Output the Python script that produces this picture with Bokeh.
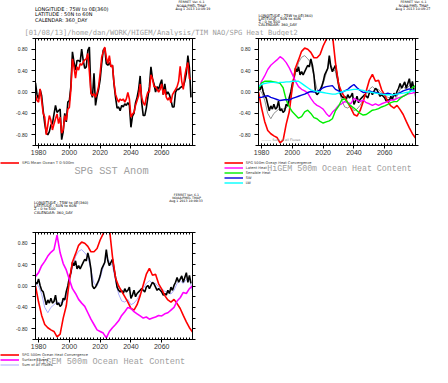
from bokeh.plotting import figure
from bokeh.layouts import column, row
from bokeh.models import (Label, Legend, LegendItem, LinearAxis, Range1d,
                          FixedTicker, PrintfTickFormatter)
from bokeh.embed import file_html
from bokeh.resources import INLINE

# ---------------- data ----------------
years_annual = list(range(1978, 2080))
years_2 = list(range(1978, 2081, 2))

sst_black = [0.17, -0.05, -0.13, 0.05, -0.07, -0.35, -0.59, -0.77, -0.80, -0.74,
             -0.62, -0.59, -0.42, -0.25, -0.38, -0.35, -0.32, -0.89, -0.74, -0.40,
             -0.56, -0.19, -0.16, 0.11, 0.75, 0.56, 0.41, 0.59, 0.59, 0.56,
             0.80, 0.59, 0.44, 0.47, 0.78, 0.84, -0.01, -0.10, 0.35, -0.25,
             -0.07, 0.05, 0.23, 0.53, 0.78, 0.82, 0.53, 0.50, 0.55, 0.48,
             0.50, 0.15, -0.10, -0.30, -0.28, -0.35, -0.25, -0.28, -0.22, -0.25,
             -0.20, -0.25, -0.66, -0.45, -0.40, -0.20, -0.10, 0.05, 0.30, -0.20,
             -0.44, -0.44, -0.30, -0.10, 0.10, 0.47, 0.25, 0.15, 0.00, 0.10,
             0.05, 0.15, 0.23, -0.05, 0.15, -0.05, 0.00, -0.05, -0.15, -0.28,
             -0.28, 0.00, 0.05, 0.05, 0.08, 0.10, 0.10, 0.20, 0.35, 0.68,
             0.45, -0.10]
sst_mean_0_500 = [-0.06, -0.16, -0.19, 0.06, -0.16, -0.40, -0.47, -0.80, -0.62, -0.44,
                  -0.53, -0.71, -0.60, -0.50, -0.41, -0.59, -0.47, -0.77, -0.71, -0.44,
                  -0.53, -0.32, -0.29, 0.05, 0.62, 0.47, 0.26, 0.47, 0.41, 0.53,
                  0.50, 0.56, 0.60, 0.62, 0.72, 0.38, -0.01, -0.07, -0.03, -0.10,
                  -0.02, 0.11, 0.35, 0.65, 0.75, 0.84, 0.65, 0.53, 0.68, 0.47,
                  0.50, 0.17, -0.04, -0.13, -0.19, -0.13, -0.16, -0.13, -0.19, -0.13,
                  -0.01, -0.13, -0.47, -0.41, -0.38, -0.25, -0.16, -0.07, 0.15, -0.10,
                  -0.20, -0.25, -0.10, 0.00, 0.00, 0.32, 0.25, 0.10, 0.10, 0.05,
                  0.00, 0.05, 0.15, -0.05, 0.05, -0.10, -0.15, -0.10, -0.20, -0.05,
                  0.00, 0.05, 0.10, 0.20, 0.48, 0.20, 0.05, 0.30, 0.45, 0.55,
                  0.25, 0.25]
ohc_500m = [0.07, 0.04, 0.13, 0.01, -0.08, -0.11, -0.23, -0.35, -0.26, -0.32,
            -0.23, -0.32, -0.29, -0.17, -0.35, -0.32, -0.38, -0.35, -0.23, -0.26,
            -0.10, 0.00, 0.16, 0.25, 0.44, 0.38, 0.47, 0.32, 0.38, 0.32,
            0.38, 0.44, 0.50, 0.47, 0.62, 0.50, 0.32, 0.00, -0.05, -0.02,
            0.04, 0.10, 0.19, 0.32, 0.38, 0.44, 0.68, 0.47, 0.38, 0.44,
            0.50, 0.32, 0.16, -0.02, -0.08, -0.11, -0.08, -0.14, -0.05, -0.11,
            -0.08, -0.02, -0.23, -0.17, -0.08, -0.20, -0.14, -0.11, -0.08, -0.05,
            -0.08, -0.11, -0.02, 0.01, -0.05, 0.01, 0.07, 0.04, -0.02, -0.08,
            -0.05, -0.08, -0.11, -0.17, -0.14, -0.17, -0.08, -0.14, -0.02, -0.08,
            0.01, 0.07, 0.16, 0.07, 0.13, 0.19, 0.07, 0.16, 0.25, 0.07,
            0.20, 0.05]
heat_convergence = [0.00, -0.30, -0.55, -0.72, -0.78, -0.82, -0.85, -0.95, -0.90, -0.60,
                    -0.37, 0.10, 0.45, 0.60, 0.76, 0.82, 0.80, 0.74, 0.64, 0.64,
                    0.70, 0.86, 0.98, 1.10, 1.08, 0.55, 0.15, 0.00, -0.10, -0.20,
                    -0.30, -0.42, -0.45, -0.35, -0.18, 0.02, 0.22, 0.33, 0.20, 0.22,
                    0.04, -0.06, -0.18, -0.26, -0.30, -0.25, -0.33, -0.42, -0.55, -0.67,
                    -0.78, -0.86]
latent_heat = [0.05, 0.20, 0.30, 0.42, 0.50, 0.55, 0.60, 0.66, 0.62, 0.55,
               0.45, 0.33, 0.20, 0.10, 0.05, 0.02, -0.02, -0.12, -0.20, -0.25,
               -0.28, -0.32, -0.40, -0.46, -0.38, -0.32, -0.25, -0.22, -0.18, -0.20,
               -0.22, -0.12, -0.15, -0.18, -0.15, -0.20, -0.22, -0.25, -0.22, -0.25,
               -0.22, -0.20, -0.18, -0.15, -0.15, -0.12, -0.10, -0.08, -0.05, -0.03,
               -0.02, 0.00]
sensible_heat = [0.05, 0.17, 0.20, 0.20, 0.20, 0.19, 0.18, 0.16, 0.08, -0.15,
                 -0.28, -0.37, -0.43, -0.49, -0.46, -0.37, -0.34, -0.40, -0.48, -0.50,
                 -0.55, -0.58, -0.56, -0.54, -0.50, -0.35, -0.27, -0.15, -0.13, -0.20,
                 -0.26, -0.30, -0.35, -0.40, -0.43, -0.42, -0.38, -0.34, -0.33, -0.31,
                 -0.28, -0.26, -0.23, -0.20, -0.18, -0.18, -0.12, -0.08, -0.05, 0.00,
                 0.08, 0.12]
sw_flux = [-0.10, -0.10, -0.08, -0.07, -0.10, -0.12, -0.14, -0.16, -0.15, -0.14,
           -0.15, -0.12, -0.10, -0.08, -0.06, -0.04, -0.01, 0.01, 0.00, 0.01,
           0.04, 0.08, 0.10, 0.11, 0.12, 0.05, 0.02, -0.01, 0.02, 0.05,
           0.10, 0.14, 0.08, 0.03, -0.01, 0.00, 0.02, 0.00, -0.01, -0.02,
           -0.04, -0.04, -0.02, -0.04, -0.06, -0.04, -0.01, 0.02, 0.04, 0.06,
           0.04, 0.03]
lw_flux = [0.10, 0.14, 0.16, 0.17, 0.18, 0.18, 0.17, 0.18, 0.18, 0.19,
           0.19, 0.20, 0.20, 0.20, 0.16, 0.12, 0.08, 0.04, 0.02, 0.01,
           0.00, -0.01, -0.02, -0.03, -0.04, -0.04, -0.02, 0.00, 0.02, 0.03,
           0.04, 0.05, 0.05, 0.04, 0.03, 0.01, 0.00, -0.01, -0.02, -0.03,
           -0.04, -0.05, -0.05, -0.05, -0.05, -0.04, -0.03, -0.02, -0.01, 0.00,
           0.02, 0.02]
surface_fluxes = [0.18, 0.25, 0.38, 0.46, 0.56, 0.63, 0.68, 0.95, 0.62, 0.42,
                  0.30, 0.12, -0.05, -0.14, -0.25, -0.32, -0.38, -0.50, -0.62, -0.72,
                  -0.82, -0.85, -0.88, -0.97, -0.85, -0.78, -0.72, -0.65, -0.55, -0.48,
                  -0.40, -0.42, -0.48, -0.52, -0.56, -0.60, -0.58, -0.62, -0.60, -0.58,
                  -0.55, -0.56, -0.52, -0.50, -0.45, -0.40, -0.28, -0.22, -0.12, -0.14,
                  -0.05, 0.00]
sum_all_fluxes = [0.05, 0.00, -0.15, -0.40, -0.50, -0.40, -0.35, -0.30, -0.32, -0.30,
                  -0.20, 0.05, 0.35, 0.55, 0.65, 0.68, 0.62, 0.55, 0.30, 0.05,
                  0.00, 0.15, 0.35, 0.55, 0.45, 0.38, 0.10, -0.15, -0.28, -0.30,
                  -0.25, -0.35, -0.32, -0.25, -0.15, -0.05, 0.05, 0.10, 0.05, 0.05,
                  -0.02, -0.05, -0.10, -0.12, -0.15, -0.08, 0.05, 0.10, 0.05, 0.12,
                  0.15, -0.10]

x_major = [1980, 2000, 2020, 2040, 2060]
x_minor = list(range(1978, 2081, 2))
y_major = [-0.8, -0.4, 0.0, 0.4, 0.8]
y_minor = [-1.0, -0.6, -0.2, 0.2, 0.6, 1.0]
y_all = [-1.0, -0.8, -0.6, -0.4, -0.2, 0.0, 0.2, 0.4, 0.6, 0.8, 1.0]

GRAY = "#a0a0a0"
NAN = float("nan")

COLORS = {"heat": "red", "latent": "magenta", "sens": "#00ee00", "sw": "#0000dd",
          "lw": "cyan", "surf": "magenta", "sum3": "#aaaaff", "sum2": "#909090"}


def make_panel(W, H, bl, bt, fw, fh):
    br = W - bl - fw
    bb = H - bt - fh
    p = figure(width=W, height=H, x_range=Range1d(1978, 2080), y_range=Range1d(-1, 1),
               x_axis_type=None, y_axis_type=None, output_backend="svg",
               toolbar_location=None, min_border_left=bl, min_border_right=br,
               min_border_top=bt, min_border_bottom=bb, frame_align=False)
    p.outline_line_color = "black"
    p.outline_line_width = 1
    p.border_fill_color = "white"
    ax = LinearAxis(ticker=FixedTicker(ticks=x_major, minor_ticks=x_minor),
                    formatter=PrintfTickFormatter(format="%d"))
    ax.major_tick_out = 3
    ax.major_tick_in = 2
    ax.minor_tick_out = 0
    ax.minor_tick_in = 2
    ax.major_label_text_font_size = "7px"
    ax.major_label_text_color = "#333333"
    ax.major_label_standoff = 1
    p.add_layout(ax, "below")
    ax = LinearAxis(ticker=FixedTicker(ticks=[], minor_ticks=x_minor))
    ax.minor_tick_out = 0
    ax.minor_tick_in = 2
    ax.major_label_standoff = 0
    p.add_layout(ax, "above")
    ax = LinearAxis(ticker=FixedTicker(ticks=y_major, minor_ticks=y_minor),
                    formatter=PrintfTickFormatter(format="%.2f"))
    ax.major_tick_out = 4
    ax.major_tick_in = 0
    ax.minor_tick_out = 3
    ax.minor_tick_in = 0
    ax.major_label_text_font_size = "5px"
    ax.major_label_text_color = "#222222"
    ax.major_label_standoff = 4
    p.add_layout(ax, "left")
    ax = LinearAxis(ticker=FixedTicker(ticks=[], minor_ticks=y_all))
    ax.minor_tick_out = 3
    ax.minor_tick_in = 0
    ax.major_label_standoff = 0
    p.add_layout(ax, "right")
    return p


def strip(W, H):
    p = figure(width=W, height=H, x_range=Range1d(0, W), y_range=Range1d(H, 0),
               x_axis_type=None, y_axis_type=None, output_backend="svg",
               toolbar_location=None, min_border=0, min_border_left=0,
               min_border_right=0, min_border_top=0, min_border_bottom=0,
               frame_align=False)
    p.outline_line_color = None
    p.border_fill_color = "white"
    p.background_fill_color = "white"
    return p


def lab(p, x, y, text, size, color="black", align="left", font="DejaVu Sans"):
    p.add_layout(Label(x=x, y=y, text=text, text_font_size=f"{size}px",
                       text_color=color, text_align=align, text_baseline="middle",
                       text_font=font))


def legend(p, H, entries, x, top, size):
    items = []
    for text, color, width in entries:
        # legend-only renderer: a single missing value, nothing drawn in the plot
        r = p.line(x=[NAN], y=[NAN], line_color=color, line_width=width)
        items.append(LegendItem(label=text, renderers=[r]))
    row_h = 5
    leg = Legend(items=items, location=(x, H - top - row_h * len(entries)))
    leg.background_fill_alpha = 0
    leg.border_line_alpha = 0
    leg.padding = 0
    leg.margin = 0
    leg.spacing = 0
    leg.glyph_width = 19
    leg.glyph_height = row_h
    leg.label_height = row_h
    leg.label_standoff = 3
    leg.label_text_font_size = f"{size}px"
    leg.label_text_font = "DejaVu Sans"
    leg.label_text_color = "#333333"
    leg.label_text_baseline = "middle"
    p.add_layout(leg, "center")


# ---------------- header strip ----------------
sA = strip(432, 36)
lab(sA, 34.5, 8.2, "LONGITUDE : 75W to 0E(360)", 5)
lab(sA, 34.5, 13.7, "LATITUDE : 50N to 60N", 5)
lab(sA, 34.5, 19.2, "CALENDAR: 360_DAY", 5)
lab(sA, 191, 1.9, "FERRET Ver. 6.1", 3.3, align="center")
lab(sA, 191, 5.0, "NOAA/PMEL TMAP", 3.3, align="center")
lab(sA, 193, 8.1, "Aug  1 2013 10:09:19", 3.3, align="center")
lab(sA, 258, 15.1, "LONGITUDE : 75W to 0E(360)", 3.7)
lab(sA, 258, 18.3, "LATITUDE : 50N to 60N", 3.7)
lab(sA, 258, 21.5, "Z : 0 to 500", 3.7)
lab(sA, 258, 24.7, "CALENDAR: 360_DAY", 3.7)
lab(sA, 413, 1.9, "FERRET Ver. 6.1", 3.3, align="center")
lab(sA, 413, 5.0, "NOAA/PMEL TMAP", 3.3, align="center")
lab(sA, 413, 8.1, "Aug  1 2013 10:09:27", 3.3, align="center")
lab(sA, 24, 31.8, "[01/08/13]/home/dan/WORK/HIGEM/Analysis/TIM_NAO/SPG_Heat_Budget2",
    7.1, GRAY, font="DejaVu Sans Mono")

# ---------------- panel 1 ----------------
p1 = make_panel(215, 124, 35, 2, 157, 107)
p1.line(years_annual, sst_black, line_color="black", line_width=1.6)
p1.line(years_annual, sst_mean_0_500, line_color="red", line_width=1.6)

# ---------------- panel 2 ----------------
p2 = make_panel(217, 124, 43, 2, 157, 107)
p2.line(years_2, sum_all_fluxes, line_color=COLORS["sum2"], line_width=1)
p2.line(years_annual, ohc_500m, line_color="black", line_width=1.6)
p2.line(years_2, heat_convergence, line_color=COLORS["heat"], line_width=1.6)
p2.line(years_2, latent_heat, line_color=COLORS["latent"], line_width=1.4)
p2.line(years_2, sensible_heat, line_color=COLORS["sens"], line_width=1.4)
p2.line(years_2, sw_flux, line_color=COLORS["sw"], line_width=1.4)
p2.line(years_2, lw_flux, line_color=COLORS["lw"], line_width=1.4)
p2.add_layout(Label(x=3, y=6, x_units="screen", y_units="screen",
                    text="\u2014\u2014\u2014 Sum of all Fluxes", text_font_size="3.3px",
                    text_color="#808080", text_baseline="middle", text_font="DejaVu Sans"))

# ---------------- middle strip ----------------
sC = strip(432, 70)
legend(sC, 70, [("SPG Mean Ocean T 0-500m", "red", 1.6)], 0, 0, 3.8)
lab(sC, 111, 10.4, "SPG SST Anom", 10.3, GRAY, align="center", font="Liberation Mono")
lab(sC, 339, 8, "HiGEM 500m Ocean Heat Content", 8.3, GRAY, align="center",
    font="Liberation Mono")
legend(sC, 70, [("SPG 500m Ocean Heat Convergence", COLORS["heat"], 1.6),
                ("Latent Heat", COLORS["latent"], 1.4),
                ("Sensible Heat", COLORS["sens"], 1.4),
                ("SW", COLORS["sw"], 1.4),
                ("LW", COLORS["lw"], 1.4)], 223.7, 0, 3.6)
lab(sC, 33.6, 42.0, "LONGITUDE : 75W to 0E(360)", 3.7)
lab(sC, 33.6, 45.4, "LATITUDE : 50N to 60N", 3.7)
lab(sC, 33.6, 48.8, "Z : 0 to 500", 3.7)
lab(sC, 33.6, 52.2, "CALENDAR: 360_DAY", 3.7)
lab(sC, 186, 34.0, "FERRET Ver. 6.1", 3.2, align="center")
lab(sC, 186, 37.0, "NOAA/PMEL TMAP", 3.2, align="center")
lab(sC, 186, 40.0, "Aug  1 2013 10:09:33", 3.2, align="center")

# ---------------- panel 3 ----------------
p3 = make_panel(215, 122, 35, 2, 157, 107)
p3.line(years_2, sum_all_fluxes, line_color=COLORS["sum3"], line_width=1)
p3.line(years_annual, ohc_500m, line_color="black", line_width=1.6)
p3.line(years_2, heat_convergence, line_color=COLORS["heat"], line_width=1.6)
p3.line(years_2, surface_fluxes, line_color=COLORS["surf"], line_width=1.6)

# ---------------- bottom strip ----------------
sE = strip(432, 15)
lab(sE, 110, 9, "HiGEM 500m Ocean Heat Content", 8.6, GRAY, align="center",
    font="Liberation Mono")
legend(sE, 15, [("SPG 500m Ocean Heat Convergence", COLORS["heat"], 1.6),
                ("Surface Fluxes", COLORS["surf"], 1.6),
                ("Sum of all Fluxes", COLORS["sum3"], 1.0)], 0, 0, 3.6)

layout = column(sA, row(p1, p2), sC, p3, sE)
open("out.html", "w").write(file_html(layout, INLINE))
